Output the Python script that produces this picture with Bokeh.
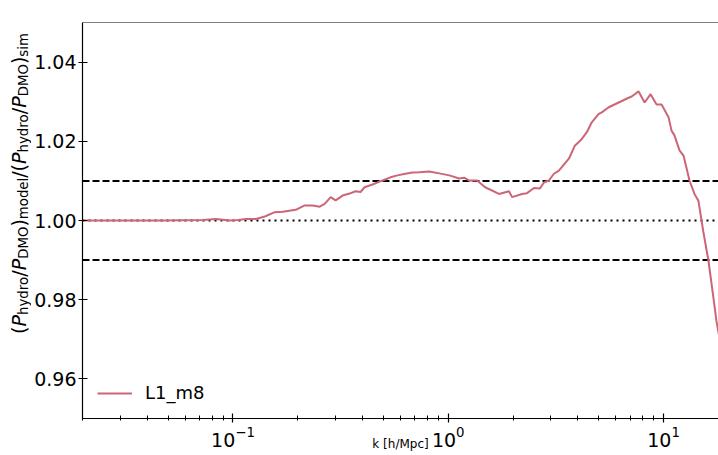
import math
from bokeh.plotting import figure
from bokeh.layouts import row
from bokeh.models import (FixedTicker, PrintfTickFormatter, LogTickFormatter,
                          Span, Label, Legend, LegendItem, Range1d)
from bokeh.embed import file_html
from bokeh.resources import INLINE

# ---------------- data ----------------
k_vals = [0.0202, 0.031, 0.0474, 0.0726, 0.0834, 0.0969, 0.1055, 0.1149, 0.1278,
          0.1406, 0.1564, 0.1703, 0.1957, 0.2154, 0.2346, 0.2528, 0.2667, 0.2843,
          0.2998, 0.3231, 0.3480, 0.3710, 0.3914, 0.4084, 0.4448, 0.4794, 0.5055,
          0.5389, 0.5806, 0.6324, 0.6813, 0.7339, 0.8166, 0.9086, 1.011, 1.124,
          1.186, 1.251, 1.362, 1.483, 1.722, 1.916, 1.978, 2.201, 2.322, 2.501,
          2.667, 2.782, 2.935, 3.095, 3.265, 3.443, 3.633, 3.873, 4.173, 4.401,
          4.642, 5.001, 5.164, 5.565, 6.190, 6.887, 7.111, 7.660, 8.166, 8.707,
          9.281, 9.788, 10.55, 10.89, 11.24, 11.86, 12.38, 13.20, 13.92, 14.52,
          15.31, 16.16, 17.04, 17.60, 18.16]
ratio_vals = [1.0000, 1.0000, 1.0000, 1.0001, 1.0004, 1.0000, 1.0001, 1.0004, 1.0004,
              1.0010, 1.0021, 1.0022, 1.0027, 1.0038, 1.0038, 1.0035, 1.0042, 1.0059,
              1.0051, 1.0063, 1.0068, 1.0074, 1.0072, 1.0084, 1.0091, 1.0098, 1.0103,
              1.0109, 1.0114, 1.0118, 1.0121, 1.0122, 1.0124, 1.0119, 1.0114, 1.0106,
              1.0108, 1.0101, 1.0101, 1.0084, 1.0067, 1.0074, 1.0059, 1.0067, 1.0069,
              1.0082, 1.0081, 1.0096, 1.0101, 1.0118, 1.0126, 1.0141, 1.0156, 1.0189,
              1.0206, 1.0223, 1.0248, 1.0269, 1.0273, 1.0286, 1.0298, 1.0310, 1.0313,
              1.0326, 1.0298, 1.0319, 1.0293, 1.0293, 1.0261, 1.0227, 1.0215, 1.0177,
              1.0164, 1.0101, 1.0067, 1.0050, 0.9971, 0.9899, 0.9806, 0.9747, 0.9705]
series_name = "L1_m8"
reference_level = 1.00
band_upper = 1.01
band_lower = 0.99
x_major_ticks = [0.1, 1.0, 10.0]
x_minor_mantissas = [2, 3, 4, 5, 6, 7, 8, 9]
x_minor_exponents = [-2, -1, 0, 1]
y_ticks = [0.96, 0.98, 1.00, 1.02, 1.04]
x_limits = (0.02, 18.0)
y_limits = (0.95, 1.05)
x_label = "k [h/Mpc]"
y_label_pieces = [("(", "main"), ("P", "ital"), ("hydro", "sub"), ("/", "main"),
                  ("P", "ital"), ("DMO", "sub"), (")", "main"), ("model", "sub"),
                  ("/(", "main"), ("P", "ital"), ("hydro", "sub"), ("/", "main"),
                  ("P", "ital"), ("DMO", "sub"), (")", "main"), ("sim", "sub")]

# ---------------- styling / layout ----------------
FONT = "DejaVu Sans"
LINE_COLOR = "#CC6677"
TOTAL_H = 455
LABEL_W = 31
BORDER_LEFT, BORDER_TOP, BORDER_BOTTOM = 49, 22, 37
FRAME_W, FRAME_H = 638, 396

p = figure(width=BORDER_LEFT + FRAME_W, height=TOTAL_H,
           x_axis_type="log",
           x_range=Range1d(*x_limits), y_range=Range1d(*y_limits),
           output_backend="svg", toolbar_location=None,
           min_border_left=BORDER_LEFT, min_border_right=0,
           min_border_top=BORDER_TOP, min_border_bottom=BORDER_BOTTOM)
p.outline_line_color = None
p.xgrid.visible = False
p.ygrid.visible = False
p.background_fill_color = "white"
p.border_fill_color = "white"

# axes
minor = [m * 10.0 ** e for e in x_minor_exponents for m in x_minor_mantissas]
p.xaxis.ticker = FixedTicker(ticks=x_major_ticks, minor_ticks=minor)
p.xaxis.formatter = LogTickFormatter()
p.yaxis.ticker = FixedTicker(ticks=y_ticks)
p.yaxis.formatter = PrintfTickFormatter(format="%.2f")
for ax in (p.xaxis, p.yaxis):
    ax.axis_line_color = "black"
    ax.axis_line_width = 1.2
    ax.major_tick_line_color = "black"
    ax.minor_tick_line_color = "black"
    ax.major_tick_line_width = 1.2
    ax.minor_tick_line_width = 1
    ax.major_tick_in = 5
    ax.major_tick_out = 4
    ax.minor_tick_in = 3
    ax.minor_tick_out = 2
    ax.major_label_text_font = FONT
    ax.major_label_text_font_size = "19px"
    ax.major_label_text_color = "black"
p.yaxis.minor_tick_in = 0
p.yaxis.minor_tick_out = 0
p.yaxis.major_label_standoff = 2
p.xaxis.major_label_standoff = 3
p.xaxis.axis_label = x_label
p.xaxis.axis_label_text_font = FONT
p.xaxis.axis_label_text_font_size = "12px"
p.xaxis.axis_label_text_font_style = "normal"
p.xaxis.axis_label_text_color = "black"
p.xaxis.axis_label_standoff = -13

# top border
p.add_layout(Span(location=y_limits[1], dimension="width", line_color="black",
                  line_width=1.2))

# reference lines
for loc, dash in ((band_upper, "7 3"), (band_lower, "7 3"), (reference_level, "2 4")):
    p.add_layout(Span(location=loc, dimension="width", line_color="black",
                      line_width=2, line_dash=dash, level="underlay"))

r = p.line(k_vals, ratio_vals, line_color=LINE_COLOR, line_width=2)

legend = Legend(items=[LegendItem(label=series_name, renderers=[r])],
                location=(15, 15), border_line_color=None, background_fill_alpha=0,
                padding=0, margin=0, glyph_width=35, glyph_height=20, label_standoff=13,
                label_text_font=FONT, label_text_font_size="18px", label_text_color="black",
                spacing=0)
p.add_layout(legend)

# ---------------- y axis label (narrow companion figure) ----------------
lab = figure(width=LABEL_W, height=TOTAL_H, x_range=(0, 1), y_range=(0, 1),
             x_axis_type=None, y_axis_type=None, output_backend="svg",
             toolbar_location=None, min_border=0)
lab.outline_line_color = None
lab.xgrid.visible = False
lab.ygrid.visible = False
lab.background_fill_color = "white"
lab.border_fill_color = "white"

EM = {"(": 0.390, ")": 0.390, "/": 0.337, "P": 0.603, "h": 0.634, "y": 0.592,
      "d": 0.635, "r": 0.411, "o": 0.612, "D": 0.770, "M": 0.863, "O": 0.787,
      "m": 0.974, "e": 0.615, "l": 0.278, "s": 0.521, "i": 0.278}
MAIN_SIZE = 19.0
SUB_SIZE = 13.3

def piece_len(s, kind):
    size = SUB_SIZE if kind == "sub" else MAIN_SIZE
    return sum(EM[c] for c in s) * size

total = sum(piece_len(s, k) for s, k in y_label_pieces)
pos = BORDER_BOTTOM + FRAME_H / 2 - total / 2
MAIN_BASE_X = 18.5
SUB_BASE_X = 23.0
for s, kind in y_label_pieces:
    size = SUB_SIZE if kind == "sub" else MAIN_SIZE
    lab.add_layout(Label(x=SUB_BASE_X if kind == "sub" else MAIN_BASE_X, y=pos,
                         x_units="screen", y_units="screen", text=s, angle=math.pi / 2,
                         text_font=FONT, text_font_size=f"{size}px",
                         text_font_style="italic" if kind == "ital" else "normal",
                         text_align="left", text_baseline="alphabetic",
                         text_color="black"))
    pos += piece_len(s, kind)

layout = row(lab, p, spacing=0)

with open("out.html", "w") as f:
    f.write(file_html(layout, INLINE))
